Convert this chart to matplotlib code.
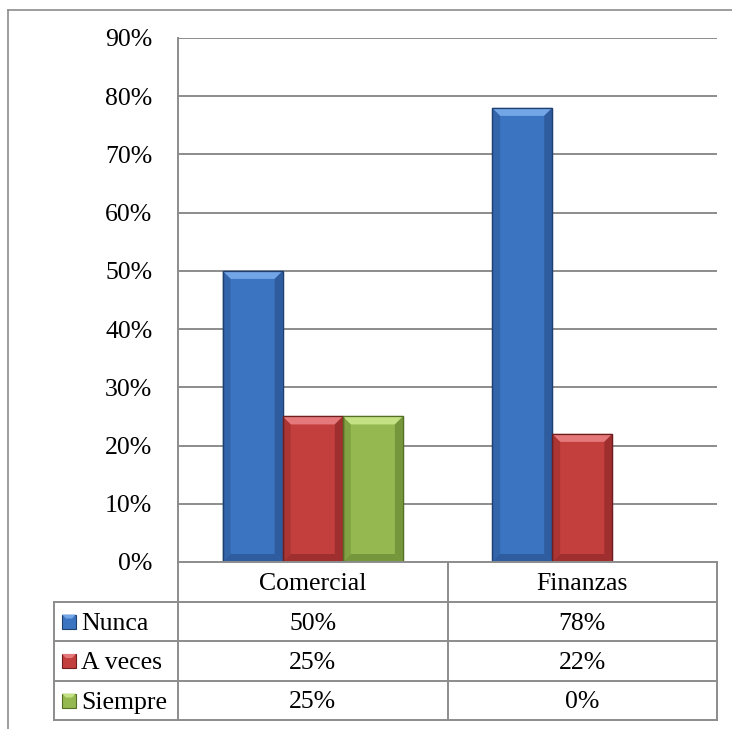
import matplotlib
matplotlib.use("Agg")
import matplotlib.pyplot as plt
from matplotlib.lines import Line2D
from matplotlib.patches import Rectangle, Polygon
import numpy as np

categories = ["Comercial", "Finanzas"]
series_names = ["Nunca", "A veces", "Siempre"]
nunca = [50, 78]
a_veces = [25, 22]
siempre = [25, 0]
table_labels = [["50%", "78%"], ["25%", "22%"], ["25%", "0%"]]
yticks = [0, 10, 20, 30, 40, 50, 60, 70, 80, 90]

colors = ["#3B74C0", "#C33F3D", "#95B851"]
edges = ["#1F3F6E", "#6E1E1E", "#556F25"]
tops = ["#73A6E6", "#E5787A", "#C4E184"]
rights = ["#2C5796", "#962C2B", "#6F8E37"]

W, H = 732, 729
fig = plt.figure(figsize=(W / 100, H / 100), dpi=100)
plt.rcParams['font.family'] = ['Liberation Serif', 'DejaVu Serif']

def fx(px):
    return px / W

def fy(py):
    return 1 - py / H

L, R, T, B = 178, 717, 38, 562
ax = fig.add_axes([fx(L), fy(B), fx(R) - fx(L), fy(T) - fy(B)])
ax.set_xlim(0, len(categories))
ax.set_ylim(0, 90)

gridc = "#8C8C8C"
for t in yticks[1:]:
    ax.axhline(t, color=gridc, lw=1.4, zorder=0)
for s in ["top", "right", "bottom"]:
    ax.spines[s].set_visible(False)
ax.spines["left"].set_color(gridc)
ax.spines["left"].set_linewidth(1.4)
ax.set_xticks([])
ax.set_yticks(yticks)
fs = 18.5
ax.set_yticklabels([f"{t}%" for t in yticks], fontsize=fs)
ax.tick_params(axis="y", length=0, pad=18.5)

bw = 0.223
ux = 1.0 / (R - L) * len(categories)   # data x units per pixel
uy = 90.0 / (B - T)                       # data y units per pixel
bvx, bvy = 8 * ux, 8 * uy
data = [nunca, a_veces, siempre]
x = np.arange(len(categories)) + 0.5
for i, vals in enumerate(data):
    xs = x + (i - 1) * bw
    bars = ax.bar(xs, vals, width=bw, color=colors[i], edgecolor=edges[i],
                  linewidth=0.9, zorder=3)
    for b, v in zip(bars, vals):
        if v <= 0:
            continue
        x0, x1 = b.get_x(), b.get_x() + bw
        ax.add_patch(Polygon([(x0, v), (x1, v), (x1 - bvx, v - bvy), (x0 + bvx, v - bvy)],
                             closed=True, facecolor=tops[i], edgecolor='none', zorder=4))
        ax.add_patch(Polygon([(x1, v), (x1, 0), (x1 - bvx, bvy), (x1 - bvx, v - bvy)],
                             closed=True, facecolor=rights[i], edgecolor='none', zorder=4, alpha=0.8))
        ax.add_patch(Polygon([(x0, 0), (x1, 0), (x1 - bvx, bvy), (x0 + bvx, bvy)],
                             closed=True, facecolor=rights[i], edgecolor='none', zorder=4, alpha=0.8))
        ax.add_patch(Polygon([(x0, 0), (x0, v), (x0 + bvx, v - bvy), (x0 + bvx, bvy)],
                             closed=True, facecolor=rights[i], edgecolor='none', zorder=4, alpha=0.5))
        ax.add_patch(Rectangle((x0, 0), bw, v, facecolor='none', edgecolor=edges[i],
                               lw=0.9, zorder=5))

# outer chart border (left and top)
fig.add_artist(Line2D([fx(8), fx(8)], [fy(10), fy(729)], color="#8C8C8C", lw=1.2))
fig.add_artist(Line2D([fx(8), fx(732)], [fy(10), fy(10)], color="#8C8C8C", lw=1.2))

# data table
rows_y = [562, 602, 641, 681, 720]
leg_x = 54
mid_x = (L + R) / 2
lw = 1.4
def hline(y, x0, x1):
    fig.add_artist(Line2D([fx(x0), fx(x1)], [fy(y), fy(y)], color=gridc, lw=lw))
def vline(x0, y0, y1):
    fig.add_artist(Line2D([fx(x0), fx(x0)], [fy(y0), fy(y1)], color=gridc, lw=lw))

hline(rows_y[0], L, R)
for y in rows_y[1:]:
    hline(y, leg_x, R)
vline(L, rows_y[0], rows_y[-1])
vline(mid_x, rows_y[0], rows_y[-1])
vline(R, rows_y[0], rows_y[-1])
vline(leg_x, rows_y[1], rows_y[-1])

col_cx = [(L + mid_x) / 2, (mid_x + R) / 2]
for j, c in enumerate(categories):
    fig.text(fx(col_cx[j]), fy((rows_y[0] + rows_y[1]) / 2 + 2), c, ha="center",
             va="center", fontsize=fs)
for i, name in enumerate(series_names):
    cy = (rows_y[i + 1] + rows_y[i + 2]) / 2
    fig.add_artist(Rectangle((fx(62), fy(cy + 7)), fx(14), fy(0) - fy(14),
                             facecolor=colors[i], edgecolor=edges[i], lw=0.8))
    fig.add_artist(Polygon([(fx(62), fy(cy - 7)), (fx(76), fy(cy - 7)),
                            (fx(72), fy(cy - 3)), (fx(66), fy(cy - 3))],
                           closed=True, facecolor=tops[i], edgecolor='none'))
    fig.text(fx(81), fy(cy + 2), name, ha="left", va="center", fontsize=fs)
    for j in range(len(categories)):
        fig.text(fx(col_cx[j]), fy(cy + 2), table_labels[i][j], ha="center",
                 va="center", fontsize=fs)

fig.savefig("out.png", dpi=100)
